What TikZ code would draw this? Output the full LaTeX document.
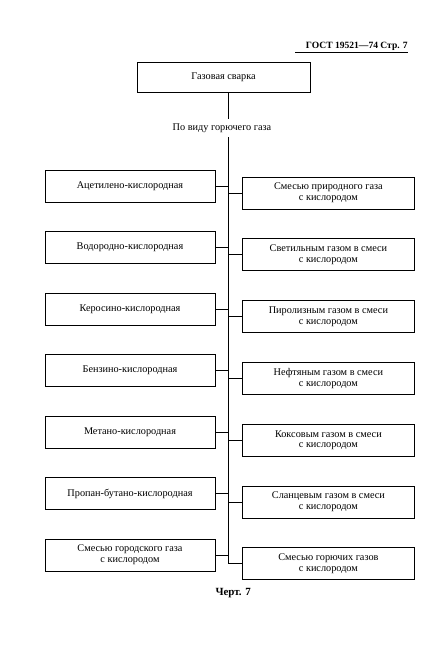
\documentclass[tikz,border=0pt]{standalone}
\usepackage{fontspec}
\setmainfont{Liberation Serif}

\begin{document}
\begin{tikzpicture}[
	box/.style={draw, rectangle, line width=0.5pt, minimum width=4.25cm, minimum height=0.8cm, inner sep=1pt, align=center, font=\fontsize{7.3}{7.7}\selectfont},
	txt/.style={font=\fontsize{7.3}{7.7}\selectfont},
	line/.style={line width=0.5pt}
	]
	\useasboundingbox (0,0) rectangle (10.675,-16.65);
	% header
	\node[anchor=base east, inner sep=0pt, font=\bfseries\fontsize{6.8}{8}\selectfont] (H) at (10.2,-1.2) {ГОСТ 19521—74 Стр. 7};
	\coordinate (U) at (7.375,-1.32);
	\draw[line] (U) -- (U -| H.east);
	
	% root
	\node[box, minimum width=4.325cm, minimum height=0.75cm] (G) at (5.59,-1.925) {Газовая сварка};
	\node[txt] (V) at (5.55,-3.2) {По виду горючего газа};
	\coordinate (T) at (5.7,-14.1);
	\draw[line] (G.south -| T) -- (V.north -| T);
	\draw[line] (V.south -| T) -- (T);
	
	% left column
	\node[box] (L1) at (3.25,-4.65) {Ацетилено-кислородная};
	\node[box] (L2) at (3.25,-6.19) {Водородно-кислородная};
	\node[box] (L3) at (3.25,-7.725) {Керосино-кислородная};
	\node[box] (L4) at (3.25,-9.26) {Бензино-кислородная};
	\node[box] (L5) at (3.25,-10.8) {Метано-кислородная};
	\node[box] (L6) at (3.25,-12.34) {Пропан-бутано-кислородная};
	\node[box] (L7) at (3.25,-13.875) {Смесью городского газа\\с кислородом};
	
	% right column
	\node[box, minimum width=4.3cm] (R1) at (8.21,-4.825) {Смесью природного газа\\с кислородом};
	\node[box, minimum width=4.3cm] (R2) at (8.21,-6.37) {Светильным газом в смеси\\с кислородом};
	\node[box, minimum width=4.3cm] (R3) at (8.21,-7.915) {Пиролизным газом в смеси\\с кислородом};
	\node[box, minimum width=4.3cm] (R4) at (8.21,-9.46) {Нефтяным газом в смеси\\с кислородом};
	\node[box, minimum width=4.3cm] (R5) at (8.21,-11.005) {Коксовым газом в смеси\\с кислородом};
	\node[box, minimum width=4.3cm] (R6) at (8.21,-12.55) {Сланцевым газом в смеси\\с кислородом};
	\node[box, minimum width=4.3cm] (R7) at (8.21,-14.095) {Смесью горючих газов\\с кислородом};
	
	\draw[line] (L1.east) -- (L1.east -| T);
	\draw[line] (L2.east) -- (L2.east -| T);
	\draw[line] (L3.east) -- (L3.east -| T);
	\draw[line] (L4.east) -- (L4.east -| T);
	\draw[line] (L5.east) -- (L5.east -| T);
	\draw[line] (L6.east) -- (L6.east -| T);
	\draw[line] (L7.east) -- (L7.east -| T);
	\draw[line] (R1.west) -- (R1.west -| T);
	\draw[line] (R2.west) -- (R2.west -| T);
	\draw[line] (R3.west) -- (R3.west -| T);
	\draw[line] (R4.west) -- (R4.west -| T);
	\draw[line] (R5.west) -- (R5.west -| T);
	\draw[line] (R6.west) -- (R6.west -| T);
	\draw[line] (R7.west) -- (R7.west -| T);
	
	% caption
	\node[font=\bfseries\fontsize{7.8}{9}\selectfont] (C) at (5.83,-14.83) {Черт. 7};
\end{tikzpicture}
\end{document}
